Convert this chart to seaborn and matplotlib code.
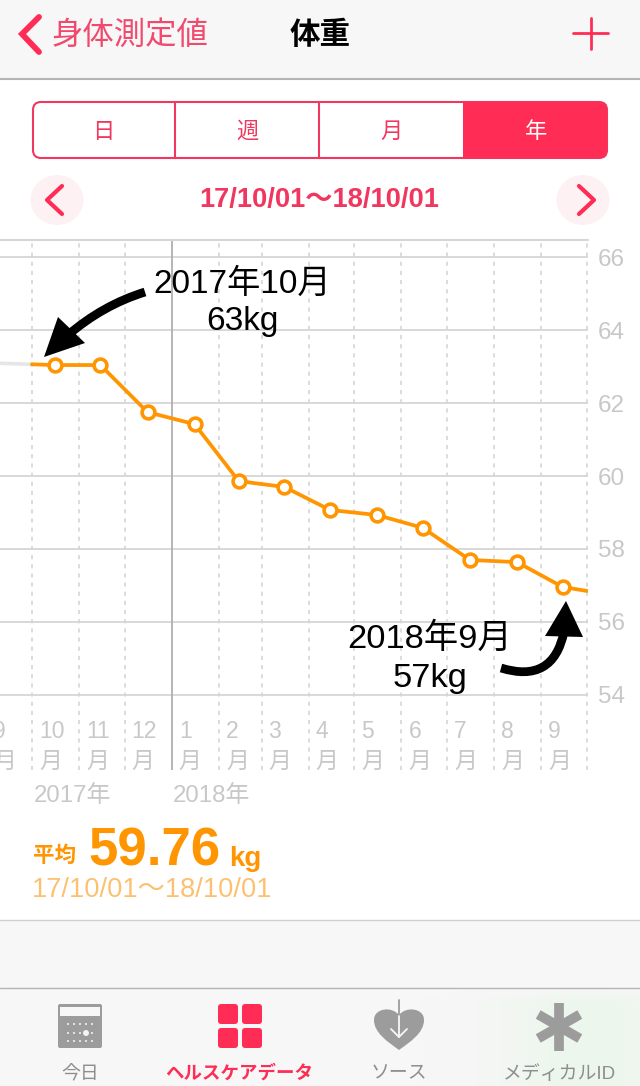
import numpy as np
import pandas as pd
import matplotlib.pyplot as plt
import matplotlib.dates as mdates
import seaborn as sns
from matplotlib.patches import FancyBboxPatch, Rectangle, Ellipse, Circle, Polygon, PathPatch
from matplotlib.path import Path

sns.set_theme(style="white")
plt.rcParams['font.family'] = ['Liberation Sans', 'Noto Sans CJK JP', 'DejaVu Sans']

# Data
point_dates = ["2017-10-16", "2017-11-15", "2017-12-16", "2018-01-16", "2018-02-14", "2018-03-16",
               "2018-04-15", "2018-05-16", "2018-06-15", "2018-07-16", "2018-08-16", "2018-09-15"]
weights = [63.04, 63.04, 61.75, 61.42, 59.86, 59.70, 59.07, 58.93, 58.58, 57.70, 57.64, 56.96]
line_start = ("2017-10-01", 63.06)
line_end = ("2018-10-01", 56.85)
before_dates = ["2017-09-01", "2017-10-01"]
before_weights = [63.10, 63.06]
month_starts = ["2017-09-01", "2017-10-01", "2017-11-01", "2017-12-01", "2018-01-01", "2018-02-01", "2018-03-01",
                "2018-04-01", "2018-05-01", "2018-06-01", "2018-07-01", "2018-08-01", "2018-09-01", "2018-10-01"]
month_labels = ["9", "10", "11", "12", "1", "2", "3", "4", "5", "6", "7", "8", "9"]
y_ticks = [54, 56, 58, 60, 62, 64, 66]
tabs = ["今日", "ヘルスケアデータ", "ソース", "メディカルID"]
segments = ["日", "週", "月", "年"]

RED = "#ff2d55"
RED_TEXT = "#f0375f"
ORANGE = "#ff9500"
GRID = "#d6d6d6"
TICK = "#c8c8c8"
W, H = 640, 1086


def pixel_axes(z):
    a = fig.add_axes([0, 0, 1, 1], zorder=z)
    a.set_xlim(0, W)
    a.set_ylim(H, 0)
    a.axis("off")
    a.patch.set_alpha(0)
    return a


def curved_arrow(a, start, ctrl, end, tip, base1, base2):
    # hand-drawn looking arrow: a curved stroke and a straight triangular head
    stroke = Path([start, ctrl, end], [Path.MOVETO, Path.CURVE3, Path.CURVE3])
    a.add_patch(PathPatch(stroke, fc="none", ec="black", lw=6.3, capstyle="butt"))
    a.add_patch(Polygon([tip, base1, base2], closed=True, fc="black", ec="none"))


fig = plt.figure(figsize=(6.4, 10.86), dpi=100, facecolor="white")
bg = pixel_axes(0)
top = pixel_axes(5)

# header and footer bands
bg.add_patch(Rectangle((0, 0), W, 78, color="#f7f7f7", lw=0))
bg.plot([0, W], [79, 79], color="#b4b4b4", lw=1.5)
bg.add_patch(Rectangle((0, 920), W, 166, color="#f7f7f7", lw=0))
bg.plot([0, W], [919.5, 919.5], color="#cfcfcf", lw=1)
bg.plot([0, W], [987.5, 987.5], color="#b4b4b4", lw=1)
# faint green tint behind the last tab
yy, xx = np.mgrid[988:1086, 380:640]
tint = np.exp(-((xx - 585) / 85.0) ** 2) * np.clip((yy - 988) / 14.0, 0, 1)
rgba = np.zeros(xx.shape + (4,))
rgba[..., 0], rgba[..., 1], rgba[..., 2] = 0.75, 0.95, 0.75
rgba[..., 3] = tint * 0.2
bg.imshow(rgba, extent=(380, 640, 1086, 988), aspect="auto", zorder=2)
bg.set_xlim(0, W)
bg.set_ylim(H, 0)

# navigation bar
bg.plot([39, 22, 39], [17, 34, 52], color=RED, lw=4.2, solid_capstyle="round", solid_joinstyle="miter")
bg.text(52, 36, "身体測定値", color=RED_TEXT, fontsize=22.6, va="center", ha="left", alpha=0.9)
bg.text(320, 36, "体重", color="black", fontsize=22, va="center", ha="center", fontweight="bold")
bg.plot([573, 608], [33, 33], color=RED, lw=2)
bg.plot([590.5, 590.5], [18, 49], color=RED, lw=2)

# segmented control
box = FancyBboxPatch((33, 102), 574, 56, boxstyle="round,pad=0,rounding_size=8", fc="white", ec=RED_TEXT, lw=1.5, zorder=3)
bg.add_patch(box)
selected = Rectangle((463, 102), 144, 56, fc=RED, ec="none", zorder=3.5)
bg.add_patch(selected)
selected.set_clip_path(box)
for sx in (175, 319):
    bg.plot([sx, sx], [102, 158], color=RED_TEXT, lw=1.5, zorder=3.2)
for sx, label in zip((103, 247, 391, 536), segments):
    bg.text(sx, 132, label, color="white" if label == "年" else RED_TEXT, fontsize=16, ha="center", va="center", zorder=4)

# date range row
bg.add_patch(Ellipse((57, 200), 53, 50, fc="#fef1f3", ec="none"))
bg.add_patch(Ellipse((583, 200), 53, 50, fc="#fef1f3", ec="none"))
bg.plot([62, 47, 62], [186, 200, 214], color=RED, lw=3, solid_capstyle="round")
bg.plot([579, 594, 579], [186, 200, 214], color=RED, lw=3, solid_capstyle="round")
bg.text(319, 200, "17/10/01〜18/10/01", color=RED_TEXT, fontsize=19.6, ha="center", va="center", fontweight="bold")

# chart
ax = fig.add_axes([0, (H - 770) / H, 588 / W, 530 / H], zorder=2)
ax.patch.set_alpha(0)

line_df = pd.DataFrame({
    "date": pd.to_datetime([line_start[0]] + point_dates + [line_end[0]]),
    "weight": [line_start[1]] + weights + [line_end[1]],
})
point_df = pd.DataFrame({"date": pd.to_datetime(point_dates), "weight": weights})
before_df = pd.DataFrame({"date": pd.to_datetime(before_dates), "weight": before_weights})

sns.lineplot(data=before_df, x="date", y="weight", color="#e6e6e6", lw=2.6, ax=ax, zorder=3)
sns.lineplot(data=line_df, x="date", y="weight", color=ORANGE, lw=2.7, ax=ax, zorder=4)
sns.scatterplot(data=point_df, x="date", y="weight", s=85, color="white", edgecolor=ORANGE, linewidth=2.6, ax=ax, zorder=5, clip_on=False)

ax.set_xlim(pd.Timestamp("2017-09-10"), pd.Timestamp("2018-10-01 16:00"))
ax.set_ylim(51.945, 66.466)
ax.set_xlabel("")
ax.set_ylabel("")

ax.yaxis.tick_right()
ax.set_yticks(y_ticks)
ax.tick_params(axis="y", length=0, pad=7, labelsize=17.5, labelcolor=TICK)
ax.grid(axis="y", color=GRID, lw=1.3)
ax.set_xticks([])
for s in ax.spines.values():
    s.set_visible(False)
ax.axhline(66.466, color=GRID, lw=1.5, clip_on=False)

month_ts = pd.to_datetime(month_starts)
for d in month_ts:
    if d == pd.Timestamp("2018-01-01"):
        ax.axvline(d, color="#b0b0b0", lw=1.3, zorder=1)
    else:
        ax.axvline(d, color=GRID, lw=1.2, ls=(0, (2.5, 3)), zorder=1)

x_trans = ax.get_xaxis_transform()
for d, label in zip(month_ts, month_labels):
    x = mdates.date2num(d)
    ax.annotate(label, xy=(x, 0), xycoords=x_trans, xytext=(5, 27.5), textcoords="offset points",
                color=TICK, fontsize=16.5, ha="left", va="center", annotation_clip=False, clip_on=True)
    ax.annotate("月", xy=(x, 0), xycoords=x_trans, xytext=(5, 6.5), textcoords="offset points",
                color=TICK, fontsize=16.5, ha="left", va="center", annotation_clip=False, clip_on=True)

# year labels and average
bg.text(34, 796, "2017年", color=TICK, fontsize=17.3, ha="left", va="center")
bg.text(173, 796, "2018年", color=TICK, fontsize=17.3, ha="left", va="center")
bg.text(33, 856, "平均", color=ORANGE, fontsize=15.5, ha="left", va="center", fontweight="bold")
bg.text(88, 865.5, "59.76", color=ORANGE, fontsize=38, ha="left", va="baseline", fontweight="bold")
bg.text(229, 865.5, "kg", color=ORANGE, fontsize=20, ha="left", va="baseline", fontweight="bold")
bg.text(32, 890, "17/10/01〜18/10/01", color="#fcc170", fontsize=19.6, ha="left", va="center")

# callouts
top.text(242, 303, "2017年10月\n63kg", color="black", fontsize=24, ha="center", va="center", linespacing=1.24)
top.text(430, 658, "2018年9月\n57kg", color="black", fontsize=24.8, ha="center", va="center", linespacing=1.32)
curved_arrow(top, (145, 292), (103, 305), (68, 335), (44, 357), (58, 317), (85, 343))
curved_arrow(top, (501, 668), (553, 684), (564, 632), (566, 601), (545, 636), (583, 637))

# tab bar icons
GREY = "#9c9c9c"
bg.add_patch(FancyBboxPatch((58, 1004), 44, 44, boxstyle="round,pad=0,rounding_size=2", fc=GREY, ec="none", zorder=3))
bg.add_patch(Rectangle((60, 1007), 40, 9, fc="#f7f7f7", ec="none", zorder=4))
for cy in (1024, 1033, 1041):
    for cx in (68, 74, 80, 86, 92):
        bg.add_patch(Circle((cx, cy), 1, fc="#f4f4f4", ec="none", zorder=4))
bg.add_patch(Circle((86, 1033), 3, fc="#f4f4f4", ec="none", zorder=5))

for cx, cy in ((218, 1004), (242, 1004), (218, 1028), (242, 1028)):
    bg.add_patch(FancyBboxPatch((cx, cy), 20, 20, boxstyle="round,pad=0,rounding_size=3", fc=RED, ec="none", zorder=3))

heart = Path([(399, 1050), (388, 1042), (374, 1033), (374, 1020), (374, 1008), (392, 1006), (399, 1015),
              (406, 1006), (424, 1008), (424, 1020), (424, 1033), (410, 1042), (399, 1050)],
             [Path.MOVETO, Path.CURVE4, Path.CURVE4, Path.CURVE4, Path.CURVE4, Path.CURVE4, Path.CURVE4,
              Path.CURVE4, Path.CURVE4, Path.CURVE4, Path.CURVE4, Path.CURVE4, Path.CURVE4])
bg.add_patch(PathPatch(heart, fc=GREY, ec="none", zorder=3))
bg.plot([399, 399], [1000, 1016], color=GREY, lw=1.3, zorder=4)
bg.plot([399, 399], [1016, 1037], color="#f7f7f7", lw=1.3, zorder=4)
bg.plot([391, 399, 407], [1029, 1037, 1029], color="#f7f7f7", lw=1.3, zorder=4)

for angle in (90, 30, 150):
    dx, dy = 24 * np.cos(np.radians(angle)), 24 * np.sin(np.radians(angle))
    bg.plot([559 - dx, 559 + dx], [1026.5 - dy, 1026.5 + dy], color=GREY, lw=7, solid_capstyle="butt", zorder=3)

for cx, label in zip((80, 239, 399, 559), tabs):
    active = label == "ヘルスケアデータ"
    bg.text(cx, 1074, label, color=RED if active else "#8e8e8e", fontsize=13.6 if not active else 13.3, ha="center", va="center",
            fontweight="bold" if active else "normal")

fig.savefig("out.png", dpi=100)
